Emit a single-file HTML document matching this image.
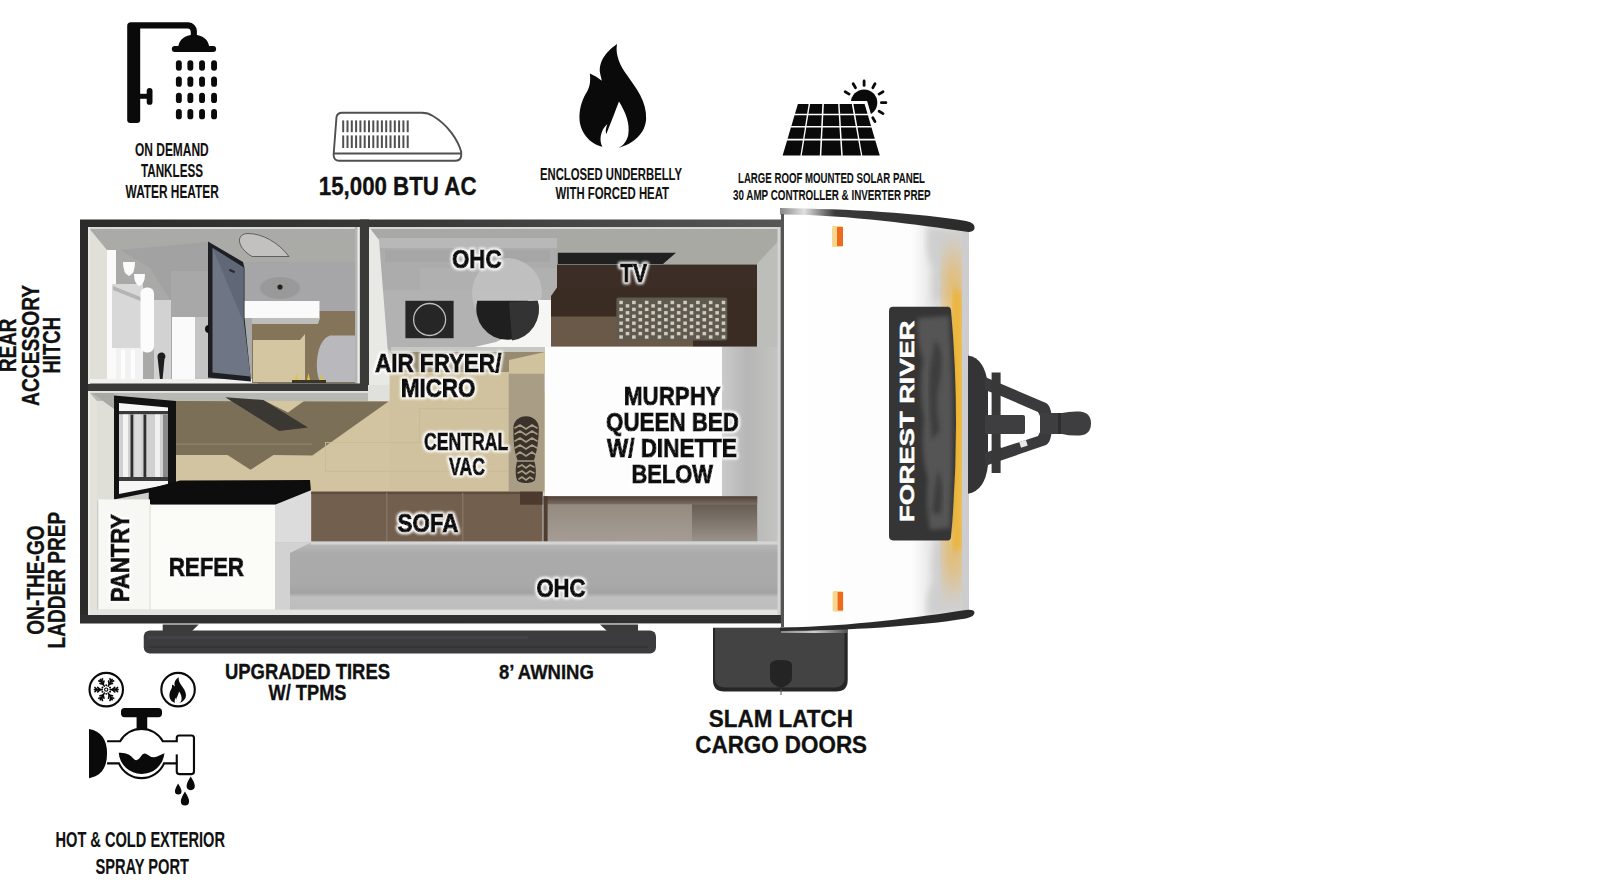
<!DOCTYPE html>
<html><head><meta charset="utf-8">
<style>
html,body{margin:0;padding:0;background:#fff;width:1600px;height:884px;overflow:hidden}
svg{display:block}
text{font-family:"Liberation Sans",sans-serif;font-weight:bold}
</style></head>
<body>
<svg width="1600" height="884" viewBox="0 0 1600 884">
<defs>
  <linearGradient id="wallTop" x1="0" x2="1" y1="0" y2="0">
    <stop offset="0" stop-color="#2b2b29"/><stop offset="0.5" stop-color="#3a3a38"/><stop offset="1" stop-color="#565656"/>
  </linearGradient>
  <filter id="glow" x="-20%" y="-40%" width="140%" height="180%">
    <feMorphology operator="dilate" radius="1" in="SourceAlpha" result="d"/>
    <feGaussianBlur in="d" stdDeviation="1.4" result="b"/>
    <feFlood flood-color="#fff"/>
    <feComposite in2="b" operator="in" result="g"/>
    <feMerge><feMergeNode in="g"/><feMergeNode in="g"/><feMergeNode in="SourceGraphic"/></feMerge>
  </filter>
</defs>
<rect width="1600" height="884" fill="#fff"/>

<!-- ===== TRAILER BODY ===== -->

<g id="body">
  <rect x="80" y="219.5" width="702" height="404" fill="url(#wallTop)"/>
  <rect x="88" y="227" width="693" height="388" fill="#cdcdca"/>

  <!-- ========== BATHROOM ========== -->
  <rect x="88" y="227" width="272" height="157" fill="#a9a9a7"/>
  <!-- ceiling -->
  <polygon points="88,227 360,227 360,262 243,262 208,242 107,252" fill="#aaaaa6"/>
  <rect x="88" y="227" width="272" height="2" fill="#d8d8d4"/>
  <polygon points="120,250 208,242 208,300 170,300 150,268" fill="#a2a2a2"/>
  <rect x="171" y="271" width="37" height="46" fill="#a8a8a8"/>
  <!-- left wall face -->
  <polygon points="88,227 107,250 107,384 88,384" fill="#e0dfd8"/>
  <!-- shower fixtures -->
  <rect x="107" y="250" width="9" height="132" fill="#fafaf8"/>
  <rect x="112" y="284" width="31" height="64" fill="#d8d8d8"/>
  <polygon points="113,286 143,298 143,302 113,290" fill="#b4b4b4"/>
  <rect x="116" y="348" width="27" height="34" fill="#f2f2f2"/>
  <rect x="121" y="350" width="4" height="32" fill="#fdfdfd"/>
  <rect x="131" y="350" width="4" height="32" fill="#fdfdfd"/>
  <path d="M123,262 h12 q0,12 -6,14 q-6,-2 -6,-14 z" fill="#fbfbfb"/>
  <path d="M134,274 h11 q0,10 -5.5,12 q-5.5,-2 -5.5,-12 z" fill="#fbfbfb"/>
  <rect x="140.5" y="287.5" width="13.5" height="65" rx="6" fill="#fcfcfc"/>
  <rect x="154" y="300" width="17" height="82" fill="#d2d2d2"/>
  <rect x="172" y="317" width="23" height="65" fill="#fafafa"/>
  <rect x="195" y="317" width="13" height="65" fill="#c4c4c4"/>
  <path d="M157.5,357 a4,4 0 1 1 7,2 l-2.2,23 h-2 z" fill="#1e1e1e"/>
  <rect x="88" y="379" width="170" height="5" fill="#f0f0ee"/>
  <!-- skylight -->
  <path d="M252,256.5 L289,256.5 C278,242 262,233.5 248,233.5 C236,233.5 236,247 252,256.5 Z" fill="#c3c1bf" stroke="#4a4a4a" stroke-width="0.8"/>
  <!-- back wall right -->
  <rect x="243" y="262" width="117" height="50" fill="#a6a6a8"/>
  <ellipse cx="280" cy="288" rx="20" ry="11" fill="#999"/>
  <circle cx="280" cy="287" r="2.6" fill="#222"/>
  <!-- vanity/floor -->
  <rect x="252" y="311" width="108" height="72" fill="#84745a"/>
  <polygon points="253,340 300,340 305,334 305,382 253,382" fill="#d4c6a0"/>
  <path d="M360,335.5 L330,335.5 C316,340 314,370 320,382 L360,382 Z" fill="#b9b9bd"/>
  <rect x="243.5" y="301" width="76" height="17" fill="#fafafa"/>
  <polygon points="252,318 320,318 318,324 252,324" fill="#bdbdb9"/>
  <rect x="292" y="380" width="34" height="3" fill="#3a3526"/>
  <path d="M295,380 l1.5,-7 l1.5,7 z M307,380 l1.5,-7 l1.5,7 z M320,380 l1.5,-7 l1.5,7 z" fill="#e2c33a"/>
  <!-- shower door -->
  <polygon points="208,241.5 243,262 244.5,268 244.5,318 251,381.5 208,377.5" fill="#1e1f22"/>
  <polygon points="212.5,248 243.5,267.5 243.5,318 250.5,376.5 212.5,372.5" fill="#6e7686"/>
  <polygon points="212.5,248 243.5,267.5 243.5,322" fill="#606877"/>
  <rect x="229" y="270" width="6" height="2" fill="#2a2a2a" transform="rotate(25 232 271)"/>
  <path d="M209,325 a4,4 0 0 0 0,8 z" fill="#111"/>
  <rect x="355" y="227" width="5" height="157" fill="#b4b4b2"/><rect x="357.5" y="227" width="2" height="157" fill="#ececea"/>
  <!-- bathroom walls -->
  <rect x="360" y="219.5" width="9" height="172" fill="#3a3a39"/>
  <rect x="88" y="383.5" width="281" height="8" fill="#3a3a39"/>

  <!-- ========== KITCHEN (top) ========== -->
  <polygon points="369,227 557,227 557,352 391,352 369,330" fill="#b0b0ae"/>
  <rect x="369" y="227" width="188" height="11" fill="#a8a8a6"/>
  <rect x="379" y="238" width="178" height="52" fill="#acacac"/>
  <rect x="379" y="238" width="178" height="10" fill="#b8b8b8"/>
  <rect x="385" y="250" width="165" height="12" fill="#a6a6a6"/>
  <rect x="420" y="268" width="137" height="22" fill="#b0b0b0"/>
  <polygon points="373,290 557,290 557,352 391,352" fill="#b2b2b2"/>
  <polygon points="369,227 379,240 391,391 369,391" fill="#e8e8e4"/>
  <rect x="405.4" y="300.8" width="48.2" height="37.4" fill="#262626"/>
  <circle cx="429.6" cy="319.5" r="16" fill="none" stroke="#bdbdbd" stroke-width="1.3"/>
  <circle cx="507" cy="293" r="35" fill="#c2c2c2" opacity="0.85"/>
  <polygon points="528,300 551,300 551,348 470,348 496,342 524,328" fill="#f6f6f4"/>
  <rect x="391" y="347" width="160" height="5" fill="#c8c8c2"/>
  <path d="M477.3,300.8 H537.7 A31.2,31.2 0 1 1 477.3,300.8 Z" fill="#1f1f1f"/>
  <path d="M509,302 L537.7,300.8 A31.2,31.2 0 0 1 512,340.5 Z" fill="#333"/>

  <!-- ========== TV / BED ========== -->
  <rect x="557" y="227" width="222" height="120" fill="#a9a9a3"/>
  <polygon points="557.8,252.7 676,252.7 663,264 557.8,264" fill="#202020"/>
  <polygon points="557,264.5 765,264.5 757,288 557,288" fill="#3c2e26"/>
  <rect x="557" y="264" width="208" height="1" fill="#777"/>
  <polygon points="557,287.5 757,287.5 757,317 551,317 551,296" fill="#3a2c23"/>
  <rect x="551" y="316.5" width="206" height="30" fill="#6a5848"/>
  <rect x="693" y="316" width="64" height="30.5" fill="#3a2c23"/>
  <polygon points="757,264 779,240 779,347 757,347" fill="#bdbdb9"/>
  <rect x="616.4" y="297.6" width="110.8" height="43" rx="2" fill="#5f5a4f"/>
  <g fill="#d2cbbf"><rect x="619.3" y="300.8" width="3.6" height="3.4"/><rect x="619.3" y="307.7" width="3.6" height="3.4"/><rect x="619.3" y="314.6" width="3.6" height="3.4"/><rect x="619.3" y="321.5" width="3.6" height="3.4"/><rect x="619.3" y="328.4" width="3.6" height="3.4"/><rect x="619.3" y="335.3" width="3.6" height="3.4"/><rect x="625.7" y="304.2" width="3.6" height="3.4"/><rect x="625.7" y="311.1" width="3.6" height="3.4"/><rect x="625.7" y="318.0" width="3.6" height="3.4"/><rect x="625.7" y="324.9" width="3.6" height="3.4"/><rect x="625.7" y="331.9" width="3.6" height="3.4"/><rect x="632.1" y="300.8" width="3.6" height="3.4"/><rect x="632.1" y="307.7" width="3.6" height="3.4"/><rect x="632.1" y="314.6" width="3.6" height="3.4"/><rect x="632.1" y="321.5" width="3.6" height="3.4"/><rect x="632.1" y="328.4" width="3.6" height="3.4"/><rect x="632.1" y="335.3" width="3.6" height="3.4"/><rect x="638.5" y="304.2" width="3.6" height="3.4"/><rect x="638.5" y="311.1" width="3.6" height="3.4"/><rect x="638.5" y="318.0" width="3.6" height="3.4"/><rect x="638.5" y="324.9" width="3.6" height="3.4"/><rect x="638.5" y="331.9" width="3.6" height="3.4"/><rect x="644.9" y="300.8" width="3.6" height="3.4"/><rect x="644.9" y="307.7" width="3.6" height="3.4"/><rect x="644.9" y="314.6" width="3.6" height="3.4"/><rect x="644.9" y="321.5" width="3.6" height="3.4"/><rect x="644.9" y="328.4" width="3.6" height="3.4"/><rect x="644.9" y="335.3" width="3.6" height="3.4"/><rect x="651.3" y="304.2" width="3.6" height="3.4"/><rect x="651.3" y="311.1" width="3.6" height="3.4"/><rect x="651.3" y="318.0" width="3.6" height="3.4"/><rect x="651.3" y="324.9" width="3.6" height="3.4"/><rect x="651.3" y="331.9" width="3.6" height="3.4"/><rect x="657.7" y="300.8" width="3.6" height="3.4"/><rect x="657.7" y="307.7" width="3.6" height="3.4"/><rect x="657.7" y="314.6" width="3.6" height="3.4"/><rect x="657.7" y="321.5" width="3.6" height="3.4"/><rect x="657.7" y="328.4" width="3.6" height="3.4"/><rect x="657.7" y="335.3" width="3.6" height="3.4"/><rect x="664.1" y="304.2" width="3.6" height="3.4"/><rect x="664.1" y="311.1" width="3.6" height="3.4"/><rect x="664.1" y="318.0" width="3.6" height="3.4"/><rect x="664.1" y="324.9" width="3.6" height="3.4"/><rect x="664.1" y="331.9" width="3.6" height="3.4"/><rect x="670.5" y="300.8" width="3.6" height="3.4"/><rect x="670.5" y="307.7" width="3.6" height="3.4"/><rect x="670.5" y="314.6" width="3.6" height="3.4"/><rect x="670.5" y="321.5" width="3.6" height="3.4"/><rect x="670.5" y="328.4" width="3.6" height="3.4"/><rect x="670.5" y="335.3" width="3.6" height="3.4"/><rect x="676.9" y="304.2" width="3.6" height="3.4"/><rect x="676.9" y="311.1" width="3.6" height="3.4"/><rect x="676.9" y="318.0" width="3.6" height="3.4"/><rect x="676.9" y="324.9" width="3.6" height="3.4"/><rect x="676.9" y="331.9" width="3.6" height="3.4"/><rect x="683.3" y="300.8" width="3.6" height="3.4"/><rect x="683.3" y="307.7" width="3.6" height="3.4"/><rect x="683.3" y="314.6" width="3.6" height="3.4"/><rect x="683.3" y="321.5" width="3.6" height="3.4"/><rect x="683.3" y="328.4" width="3.6" height="3.4"/><rect x="683.3" y="335.3" width="3.6" height="3.4"/><rect x="689.7" y="304.2" width="3.6" height="3.4"/><rect x="689.7" y="311.1" width="3.6" height="3.4"/><rect x="689.7" y="318.0" width="3.6" height="3.4"/><rect x="689.7" y="324.9" width="3.6" height="3.4"/><rect x="689.7" y="331.9" width="3.6" height="3.4"/><rect x="696.1" y="300.8" width="3.6" height="3.4"/><rect x="696.1" y="307.7" width="3.6" height="3.4"/><rect x="696.1" y="314.6" width="3.6" height="3.4"/><rect x="696.1" y="321.5" width="3.6" height="3.4"/><rect x="696.1" y="328.4" width="3.6" height="3.4"/><rect x="696.1" y="335.3" width="3.6" height="3.4"/><rect x="702.5" y="304.2" width="3.6" height="3.4"/><rect x="702.5" y="311.1" width="3.6" height="3.4"/><rect x="702.5" y="318.0" width="3.6" height="3.4"/><rect x="702.5" y="324.9" width="3.6" height="3.4"/><rect x="702.5" y="331.9" width="3.6" height="3.4"/><rect x="708.9" y="300.8" width="3.6" height="3.4"/><rect x="708.9" y="307.7" width="3.6" height="3.4"/><rect x="708.9" y="314.6" width="3.6" height="3.4"/><rect x="708.9" y="321.5" width="3.6" height="3.4"/><rect x="708.9" y="328.4" width="3.6" height="3.4"/><rect x="708.9" y="335.3" width="3.6" height="3.4"/><rect x="715.3" y="304.2" width="3.6" height="3.4"/><rect x="715.3" y="311.1" width="3.6" height="3.4"/><rect x="715.3" y="318.0" width="3.6" height="3.4"/><rect x="715.3" y="324.9" width="3.6" height="3.4"/><rect x="715.3" y="331.9" width="3.6" height="3.4"/><rect x="721.7" y="300.8" width="3.6" height="3.4"/><rect x="721.7" y="307.7" width="3.6" height="3.4"/><rect x="721.7" y="314.6" width="3.6" height="3.4"/><rect x="721.7" y="321.5" width="3.6" height="3.4"/><rect x="721.7" y="328.4" width="3.6" height="3.4"/><rect x="721.7" y="335.3" width="3.6" height="3.4"/></g>

  <!-- ========== FLOOR / CENTRAL ========== -->
  <rect x="175" y="391" width="370" height="101" fill="#d2c4a0"/>
  <polygon points="88,391 390,391 389,401 88,401" fill="#b8b8b4"/>
  <rect x="88" y="391" width="302" height="2" fill="#e0e0dc"/>
  <polygon points="368,385 390,385 390,401 368,401" fill="#e0e0dc"/>
  <polygon points="175,401 388.5,401.5 312.3,455.4 273.5,455 250.5,469.8 227.5,455 175,455" fill="#7b6f58"/>
  <polygon points="265,401 304,401 288,412.5" fill="#d4c6a0"/>
  <rect x="175" y="443.5" width="137" height="1.2" fill="#938567"/>
  <polygon points="225.3,397.2 263.4,400 308,427.4 279.2,431" fill="#3b3733"/>
  <rect x="389.6" y="352" width="120" height="140" fill="#d0c29e"/>
  <rect x="391" y="352" width="154" height="20" fill="#968a70"/>
  <rect x="419" y="408.2" width="90" height="0.9" fill="#c8ba96"/>
  <rect x="325" y="442.2" width="184" height="0.9" fill="#c8ba96"/>
  <rect x="325" y="470.8" width="184" height="0.9" fill="#c8ba96"/>
  <rect x="419.2" y="408" width="0.9" height="35" fill="#c8ba96"/>
  <rect x="325" y="442" width="0.9" height="29" fill="#c8ba96"/>
  <!-- vac mat -->
  <rect x="508.7" y="373.4" width="35.6" height="118" fill="#a99d85"/>
  <polygon points="509,360 545,352 545,373.6 509,373.6" fill="#d0c29c"/>
  <g>
  <path d="M526,416.2 C533,416.2 538.8,421 538.8,428 C538.8,440 537,452 534,460 C536,466 536.5,474 535,480 C533,484 519,484 517,480 C515,474 515.5,466 517.5,460 C514,452 513.4,440 513.4,428 C513.4,421 519,416.2 526,416.2 Z" fill="#3b332b"/>
  <g fill="none" stroke="#a89c84" stroke-width="1.6" stroke-linecap="round">
    <path d="M515,428 L520,425 L526,429 L532,425 L537,428"/>
    <path d="M515,434 L520,431 L526,435 L532,431 L537,434"/>
    <path d="M515,441 L520,438 L526,442 L532,438 L537,441"/>
    <path d="M515,448 L520,445 L526,449 L532,445 L537,448"/>
    <path d="M516,455 L520,452 L526,456 L532,452 L536,455"/>
    <path d="M517,461 L535,461"/>
    <path d="M518,467 L522,465 L526,468 L530,465 L534,467"/>
    <path d="M518,473 L522,471 L526,474 L530,471 L534,473"/>
    <path d="M519,479 L522,477 L526,480 L530,477 L533,479"/>
  </g>
</g>
  <!-- left-lower: door + walls -->
  <polygon points="88,391 97,401 97,615 88,615" fill="#e2e1da"/>
  <polygon points="97,401 114,401 114,500 97,500" fill="#dfded7"/>
  <polygon points="92,393 114,393 114,409" fill="#a8a8a4"/>
  <polygon points="114,395.6 176,401 176,487 114,499.5" fill="#121212"/>
  <polygon points="119,403 168,407.5 168,484.5 119,494" fill="#f6f6f6"/>
  <rect x="119" y="411" width="49" height="3.5" fill="#3a3a3a"/>
  <rect x="119" y="414.5" width="49" height="62.5" fill="#d0d0d0"/>
  <rect x="123" y="414.5" width="5" height="62.5" fill="#f4f4f4"/>
  <rect x="135" y="414.5" width="6" height="62.5" fill="#dcdcdc"/>
  <rect x="155" y="414.5" width="5" height="62.5" fill="#f0f0f0"/>
  <rect x="130.5" y="414.5" width="2.8" height="62.5" fill="#2e2e2e"/>
  <rect x="143.5" y="414.5" width="2.8" height="62.5" fill="#2e2e2e"/>
  <rect x="163" y="414.5" width="5" height="62.5" fill="#8a8a8a"/>
  <rect x="119" y="477" width="49" height="4" fill="#3a3a3a"/>
  <!-- countertop -->
  <polygon points="148.8,489 180,480.6 310,480 311,492 303,504.7 148.8,504.7" fill="#0d0d0d"/>
  <!-- pantry & refer -->
  <rect x="98.3" y="499.4" width="51.7" height="110.3" fill="#f7f7f3"/>
  <rect x="150" y="504.7" width="125" height="105" fill="#fbfbf7"/>
  <rect x="149.5" y="504" width="1.2" height="106" fill="#e2e2dc"/>
  <polygon points="275,504.7 311.6,490 311.6,542.4 275,542.4" fill="#dcdcdc"/>
  <!-- sofa -->
  <rect x="311.2" y="491.7" width="231.3" height="50" fill="#735f4d"/>
  <rect x="311.2" y="491.7" width="231.3" height="2.5" fill="#5e4c3e"/>
  <rect x="386" y="493" width="1.5" height="48" fill="#857261"/>
  <rect x="462" y="493" width="1.5" height="48" fill="#857261"/>
  <rect x="520" y="491.7" width="22.5" height="13" fill="#4c3a2e"/>
  <!-- bed -->
  <rect x="545" y="346.8" width="177" height="149.5" fill="#fdfdfd"/>
  <linearGradient id="bedSide" x1="0" x2="1"><stop offset="0" stop-color="#cacaca"/><stop offset="0.45" stop-color="#b6b6b6"/><stop offset="1" stop-color="#c4c4c2"/></linearGradient>
  <rect x="722" y="346.8" width="57" height="195" fill="url(#bedSide)"/>
  <!-- dinette -->
  <rect x="543.6" y="496.3" width="213.6" height="45.2" fill="#8a7c70"/>
  <linearGradient id="dinTop" x1="0" x2="0" y1="0" y2="1"><stop offset="0" stop-color="#4e4036"/><stop offset="1" stop-color="#7a6c62"/></linearGradient>
  <rect x="543.6" y="496.3" width="213.6" height="8" fill="url(#dinTop)"/>
  <linearGradient id="dinSeat" x1="0" x2="0" y1="0" y2="1"><stop offset="0" stop-color="#958a80"/><stop offset="1" stop-color="#a59d95"/></linearGradient>
  <rect x="547" y="504.4" width="145" height="37.1" fill="url(#dinSeat)"/>
  <rect x="543.6" y="496.3" width="4" height="45.2" fill="#4e3e32"/>
  <linearGradient id="dinR" x1="0" x2="0" y1="0" y2="1"><stop offset="0" stop-color="#665c52"/><stop offset="1" stop-color="#9a938b"/></linearGradient>
  <rect x="692" y="504.4" width="65" height="37.1" fill="url(#dinR)"/>
  <!-- bottom OHC -->
  <linearGradient id="ohcB" x1="0" x2="0" y1="0" y2="1"><stop offset="0" stop-color="#cdcdcd"/><stop offset="0.05" stop-color="#b6b6b6"/><stop offset="0.16" stop-color="#ababab"/><stop offset="0.58" stop-color="#a9a9a9"/><stop offset="0.70" stop-color="#a3a3a3"/><stop offset="0.76" stop-color="#c0c0c0"/><stop offset="0.9" stop-color="#bdbdbd"/><stop offset="1" stop-color="#d0d0cc"/></linearGradient>
  <polygon points="275,542.4 781,541.5 781,615 275,615" fill="url(#ohcB)"/>
  <polygon points="275,542.4 311,542.4 290,553 290,610 275,610" fill="#d2d2d2"/>
  <rect x="311" y="541.5" width="470" height="3" fill="#d4d4d4"/>
  <rect x="88" y="609.7" width="693" height="5.5" fill="#e4e4e0"/>
  <rect x="369" y="227" width="410" height="2" fill="#d6d6d2"/>
  <rect x="88" y="227" width="2" height="157" fill="#e8e8e2"/>
  <rect x="88" y="391" width="2" height="224" fill="#ecebe5"/>
  <!-- right interior edge -->
  <rect x="777.5" y="227" width="3.5" height="388" fill="#d4d4d4"/><rect x="780.5" y="227" width="1" height="388" fill="#777"/>
  <!-- bottom wall -->
  <rect x="80" y="615" width="702" height="8" fill="#303030"/>
</g>



<!-- ===== AWNING ===== -->
<g id="awning">
  <polygon points="162.7,624.5 198.75,624.5 192,631 162.7,631" fill="#3a3a3a"/>
  <polygon points="600,624.5 638,624.5 638,631 607,631" fill="#3a3a3a"/>
  <rect x="143.75" y="630.5" width="512.25" height="23" rx="6" fill="#3c3c3e"/>
  <rect x="148" y="636" width="380" height="3" fill="#444446"/>
  <rect x="148" y="646" width="500" height="2" fill="#353537"/>
</g>

<!-- ===== CARGO DOOR ===== -->
<g id="cargo">
  <path d="M713,627.8 H847.7 V680 Q847.7,691.5 836,691.5 H724 Q713,691.5 713,680 Z" fill="#262626"/>
  <path d="M715,628 H844.5 V678 Q844.5,687.5 834,687.5 H726 Q715,687.5 715,678 Z" fill="#434343"/>
  <rect x="781" y="629" width="66" height="4" fill="url(#doorHi)"/>
  <path d="M770,665 Q770,660 781,660 Q792,660 792,665 V678 Q792,684 781,688 Q770,684 770,678 Z" fill="#242424"/>
  <rect x="780.5" y="689" width="1" height="6" fill="#555"/>
</g>

<!-- ===== FRONT CAP ===== -->
<defs>
  <linearGradient id="capGrad" x1="781" x2="969" y1="0" y2="0" gradientUnits="userSpaceOnUse">
    <stop offset="0" stop-color="#ffffff"/>
    <stop offset="0.7" stop-color="#fcfcfc"/>
    <stop offset="0.8" stop-color="#e6e6e6"/>
    <stop offset="0.9" stop-color="#dcdcdc"/>
    <stop offset="1" stop-color="#cfcfd2"/>
  </linearGradient>
  <linearGradient id="yel" x1="0" x2="0" y1="0" y2="1">
    <stop offset="0" stop-color="#e8b860" stop-opacity="0.1"/>
    <stop offset="0.1" stop-color="#e8b860" stop-opacity="0.75"/>
    <stop offset="0.5" stop-color="#f0b830" stop-opacity="1"/>
    <stop offset="0.9" stop-color="#e8b860" stop-opacity="0.75"/>
    <stop offset="1" stop-color="#e8b860" stop-opacity="0.1"/>
  </linearGradient>
  <linearGradient id="capTopBand" x1="781" x2="974" gradientUnits="userSpaceOnUse">
    <stop offset="0" stop-color="#8a8a8a"/><stop offset="0.12" stop-color="#e0e0e0"/><stop offset="0.28" stop-color="#3a3a3a"/><stop offset="1" stop-color="#2a2a2a"/>
  </linearGradient>
  <linearGradient id="capBotBand" x1="713" x2="974" gradientUnits="userSpaceOnUse">
    <stop offset="0" stop-color="#3a3a3a"/><stop offset="0.28" stop-color="#d8d8d8"/><stop offset="0.45" stop-color="#2e2e2e"/><stop offset="1" stop-color="#262626"/>
  </linearGradient>
  <linearGradient id="doorHi" x1="781" x2="847" gradientUnits="userSpaceOnUse">
    <stop offset="0" stop-color="#888"/><stop offset="0.5" stop-color="#cfcfcf"/><stop offset="1" stop-color="#555"/>
  </linearGradient>
  <filter id="blur2"><feGaussianBlur stdDeviation="2"/></filter>
  <filter id="blur3"><feGaussianBlur stdDeviation="3"/></filter>
  <filter id="blur6"><feGaussianBlur stdDeviation="6"/></filter>
</defs>
<g id="cap">
  <path d="M781,214 C850,215 920,222 969,229 L969,612 C920,619 850,626 781,627 Z" fill="url(#capGrad)"/>
  <g filter="url(#blur3)">
    <path d="M928,226 Q945,229 964,232 L964,330 Q950,320 935,310 Q930,290 933,270 Q924,250 928,226 Z" fill="#cfcfcf"/>
    <path d="M928,616 Q945,613 964,610 L964,520 Q950,530 935,540 Q930,560 933,580 Q924,600 928,616 Z" fill="#cfcfcf"/>
    <rect x="936" y="300" width="22" height="240" fill="#dcdcdc"/>
  </g>
  <g filter="url(#blur6)">
    <rect x="943" y="240" width="21" height="360" fill="url(#yel)"/>
  </g>
  <g filter="url(#blur3)">
    <rect x="953" y="290" width="8" height="260" fill="#f0b020" opacity="0.8"/>
  </g>
  <rect x="962" y="229" width="7" height="383" fill="#cdcdd0"/>
  <path d="M780,208 C850,209 920,213 966,221 Q976,223 974.5,229 Q972,233 965,231.5 C920,225 850,215 784,214.5 L780,214.5 Z" fill="url(#capTopBand)"/>
  <path d="M780,631 C850,630.5 920,626 966,618.5 Q975,616.5 974.5,612 Q973,609 966,610 C920,617 850,626.5 784,627.5 L780,627.5 Z" fill="#2a2a2a"/>
  <rect x="781" y="214" width="3" height="413" fill="#555"/>
  <!-- marker lights -->
  <rect x="832" y="226" width="11" height="21" rx="1.5" fill="#f7d690"/>
  <rect x="837" y="227" width="6" height="19" fill="#ee6a1c"/>
  <rect x="832.6" y="591" width="10.5" height="20.5" rx="1.5" fill="#f7d690"/>
  <rect x="837.6" y="592" width="5.5" height="18.5" fill="#ee6a1c"/>
  <!-- logo -->
  <path d="M893,306.8 H948 Q950.5,307 951,310 Q961,423 951,537 Q950.5,540.4 948,540.4 H893 Q889,540.4 889,536 V311 Q889,306.8 893,306.8 Z" fill="#353535"/>
  <g filter="url(#blur2)" fill="#545454">
    <path d="M918,318 L949,316 Q956,420 950,528 L930,530 Q925,505 928,480 Q920,450 924,420 Q918,390 923,360 Q916,340 918,318 Z"/>
  </g>
  <g filter="url(#blur2)" fill="#3c3c3c">
    <path d="M935,340 Q945,350 940,380 Q934,400 940,430 L932,440 Q928,400 930,370 Z"/>
    <path d="M938,470 Q946,490 940,515 L932,512 Q934,490 938,470 Z"/>
  </g>
  <text transform="translate(914.3,522) rotate(-90)" font-size="20" fill="#fff" stroke="#fff" stroke-width="0.5" textLength="201.5" lengthAdjust="spacingAndGlyphs">FOREST RIVER</text>
</g>

<!-- ===== HITCH ===== -->
<g id="hitch" fill="#3a3a3c">
  <path d="M968,355.4 Q985,358 988,385 L988,465 Q985,491 968,493.7 Z" fill="#343436"/>
  <path fill-rule="evenodd" d="M985,377 L1046,403 Q1052,406 1052,424 Q1052,442 1046,445 L985,466 L985,453 L1001,447 L1001,396 L985,390 Z M1001,396 L1038,412 L1044,424 L1038,436 L1001,448 Z"/>
  <rect x="991.6" y="372.5" width="9" height="100.5" fill="#383838"/>
  <rect x="985" y="415" width="40" height="19" rx="2" fill="#3e3e40"/>
  <path d="M1040,413 H1062 Q1070,411 1080,411.5 Q1091,412.5 1091,423.5 Q1091,434.5 1080,435.5 Q1070,436 1062,434 H1040 Z" fill="#3e3e40"/>
  <rect x="1058" y="413" width="3" height="21" fill="#2e2e30"/>
  <rect x="1020" y="441" width="7" height="6" fill="#e8e8e8" transform="rotate(-18 1023 444)"/>
</g>


<!-- ===== ICONS ===== -->
<g id="shower" fill="#0a0a0a">
  <path d="M127.2,26 Q127.2,22.3 131,22.3 H188.5 A8.4,8.8 0 0 1 196.9,31.1 V37 H190.8 V32.5 A3.2,4.1 0 0 0 187.6,28.4 H140.2 V120 Q140.2,123 137,123 H130.4 Q127.2,123 127.2,120 Z"/>
  <path d="M178.1,47 Q180,35.5 193.8,34.8 Q207.5,35.5 209.3,47 Z"/>
  <rect x="171.8" y="46" width="44.3" height="6" rx="3"/>
  <rect x="175.9" y="60.3" width="5.9" height="10.4" rx="2.9"/><rect x="187.4" y="60.3" width="5.9" height="10.4" rx="2.9"/><rect x="199.1" y="60.3" width="5.9" height="10.4" rx="2.9"/><rect x="211.1" y="60.3" width="5.9" height="10.4" rx="2.9"/><rect x="175.9" y="76.4" width="5.9" height="10.4" rx="2.9"/><rect x="187.4" y="76.4" width="5.9" height="10.4" rx="2.9"/><rect x="199.1" y="76.4" width="5.9" height="10.4" rx="2.9"/><rect x="211.1" y="76.4" width="5.9" height="10.4" rx="2.9"/><rect x="175.9" y="92.7" width="5.9" height="10.4" rx="2.9"/><rect x="187.4" y="92.7" width="5.9" height="10.4" rx="2.9"/><rect x="199.1" y="92.7" width="5.9" height="10.4" rx="2.9"/><rect x="211.1" y="92.7" width="5.9" height="10.4" rx="2.9"/><rect x="175.9" y="108.9" width="5.9" height="10.4" rx="2.9"/><rect x="187.4" y="108.9" width="5.9" height="10.4" rx="2.9"/><rect x="199.1" y="108.9" width="5.9" height="10.4" rx="2.9"/><rect x="211.1" y="108.9" width="5.9" height="10.4" rx="2.9"/>
  <rect x="139" y="93.8" width="9" height="5"/>
  <rect x="146.7" y="87.9" width="5.8" height="16.9" rx="2.9"/>
</g>
<g id="ac">
  <path d="M336.5,117 Q337.5,112.7 342,112.7 H422 Q428,112.7 433,116 C448,125 458,140 461.2,152 L461.2,156 Q460.5,160.8 455,160.8 H339 Q334,160.8 333.6,155 Z M334,153.5 H461" fill="none" stroke="#505050" stroke-width="1.9"/>
  <g fill="#505050"><rect x="342.2" y="120.4" width="2" height="11.8"/><rect x="342.2" y="135.4" width="2" height="12.6"/><rect x="346.5" y="120.4" width="2" height="11.8"/><rect x="346.5" y="135.4" width="2" height="12.6"/><rect x="350.8" y="120.4" width="2" height="11.8"/><rect x="350.8" y="135.4" width="2" height="12.6"/><rect x="355.1" y="120.4" width="2" height="11.8"/><rect x="355.1" y="135.4" width="2" height="12.6"/><rect x="359.4" y="120.4" width="2" height="11.8"/><rect x="359.4" y="135.4" width="2" height="12.6"/><rect x="363.7" y="120.4" width="2" height="11.8"/><rect x="363.7" y="135.4" width="2" height="12.6"/><rect x="368.0" y="120.4" width="2" height="11.8"/><rect x="368.0" y="135.4" width="2" height="12.6"/><rect x="372.3" y="120.4" width="2" height="11.8"/><rect x="372.3" y="135.4" width="2" height="12.6"/><rect x="376.6" y="120.4" width="2" height="11.8"/><rect x="376.6" y="135.4" width="2" height="12.6"/><rect x="380.9" y="120.4" width="2" height="11.8"/><rect x="380.9" y="135.4" width="2" height="12.6"/><rect x="385.2" y="120.4" width="2" height="11.8"/><rect x="385.2" y="135.4" width="2" height="12.6"/><rect x="389.5" y="120.4" width="2" height="11.8"/><rect x="389.5" y="135.4" width="2" height="12.6"/><rect x="393.8" y="120.4" width="2" height="11.8"/><rect x="393.8" y="135.4" width="2" height="12.6"/><rect x="398.1" y="120.4" width="2" height="11.8"/><rect x="398.1" y="135.4" width="2" height="12.6"/><rect x="402.4" y="120.4" width="2" height="11.8"/><rect x="402.4" y="135.4" width="2" height="12.6"/><rect x="406.7" y="120.4" width="2" height="11.8"/><rect x="406.7" y="135.4" width="2" height="12.6"/></g>
</g>
<path id="flame" transform="translate(570,38) scale(0.1324)" d="M355,45 C290,90 210,170 228,270 C232,290 238,310 240,322 C210,298 180,282 150,268 C158,340 145,380 120,420 C85,480 68,550 72,620 C82,730 165,805 245,822 C220,780 225,700 282,650 C268,690 268,715 275,725 C300,660 340,560 370,480 C420,560 455,650 440,730 C430,780 400,815 365,830 C480,800 570,720 575,610 C580,480 500,380 430,280 C380,210 340,130 355,45 Z" fill="#0a0a0a"/>
<g id="solar" fill="#0a0a0a">
  <circle cx="864.1" cy="102.7" r="13.2"/>
  <polygon points="796.6,102.5 866,102.5 881.8,157 781,157" fill="#fff"/>
  <polygon points="796.6,102.5 866,102.5 881.8,157 781,157" fill="none" stroke="#fff" stroke-width="3"/>
  <polygon points="797.9,104.0 808.6,104.0 807.1,113.7 795.0,113.7"/><polygon points="810.1,104.0 822.3,104.0 821.8,113.7 808.5,113.7"/><polygon points="823.9,104.0 838.1,104.0 838.7,113.7 823.4,113.7"/><polygon points="839.6,104.0 851.8,104.0 853.5,113.7 840.2,113.7"/><polygon points="853.4,104.0 864.6,104.0 867.5,113.7 855.1,113.7"/><polygon points="794.5,115.3 806.8,115.3 805.1,126.0 791.4,126.0"/><polygon points="808.3,115.3 821.8,115.3 821.2,126.0 806.5,126.0"/><polygon points="823.3,115.3 838.8,115.3 839.4,126.0 822.8,126.0"/><polygon points="840.3,115.3 853.8,115.3 855.7,126.0 840.9,126.0"/><polygon points="855.4,115.3 867.9,115.3 871.1,126.0 857.2,126.0"/><polygon points="790.9,127.5 804.9,127.5 803.1,138.7 787.6,138.7"/><polygon points="806.3,127.5 821.2,127.5 820.6,138.7 804.4,138.7"/><polygon points="822.7,127.5 839.5,127.5 840.2,138.7 822.1,138.7"/><polygon points="841.0,127.5 856.0,127.5 858.0,138.7 841.7,138.7"/><polygon points="857.5,127.5 871.5,127.5 874.8,138.7 859.4,138.7"/><polygon points="787.1,140.4 802.8,140.4 800.4,155.5 782.6,155.5"/><polygon points="804.2,140.4 820.5,140.4 819.8,155.5 801.7,155.5"/><polygon points="822.1,140.4 840.3,140.4 841.2,155.5 821.3,155.5"/><polygon points="841.8,140.4 858.3,140.4 861.0,155.5 842.7,155.5"/><polygon points="859.7,140.4 875.3,140.4 879.8,155.5 862.3,155.5"/>
  <g stroke="#0a0a0a" stroke-width="2.8" stroke-linecap="round"><line x1="849.1" y1="94.1" x2="845.2" y2="91.8"/><line x1="855.5" y1="87.7" x2="853.2" y2="83.8"/><line x1="864.1" y1="85.4" x2="864.1" y2="80.9"/><line x1="872.8" y1="87.7" x2="875.0" y2="83.8"/><line x1="879.1" y1="94.1" x2="883.0" y2="91.8"/><line x1="881.4" y1="102.7" x2="885.9" y2="102.7"/><line x1="879.1" y1="111.3" x2="883.0" y2="113.6"/><line x1="872.8" y1="117.7" x2="875.0" y2="121.6"/></g>
</g>
<g id="faucet" transform="translate(80,665) scale(0.164)">
  <circle cx="160" cy="150" r="102" fill="none" stroke="#0a0a0a" stroke-width="13"/>
  <circle cx="598" cy="150" r="102" fill="none" stroke="#0a0a0a" stroke-width="13"/>
  <g stroke="#0a0a0a" stroke-width="10" stroke-linecap="round"><line x1="184" y1="150" x2="232" y2="150"/><line x1="198" y1="150" x2="212" y2="136"/><line x1="198" y1="150" x2="212" y2="164"/><line x1="216" y1="150" x2="229" y2="137"/><line x1="216" y1="150" x2="229" y2="163"/><circle cx="183" cy="163" r="6" stroke="none" fill="#0a0a0a"/><line x1="172" y1="171" x2="196" y2="212"/><line x1="179" y1="183" x2="198" y2="188"/><line x1="179" y1="183" x2="174" y2="202"/><line x1="188" y1="198" x2="205" y2="203"/><line x1="188" y1="198" x2="183" y2="216"/><circle cx="160" cy="176" r="6" stroke="none" fill="#0a0a0a"/><line x1="148" y1="171" x2="124" y2="212"/><line x1="141" y1="183" x2="146" y2="202"/><line x1="141" y1="183" x2="122" y2="188"/><line x1="132" y1="198" x2="137" y2="216"/><line x1="132" y1="198" x2="115" y2="203"/><circle cx="137" cy="163" r="6" stroke="none" fill="#0a0a0a"/><line x1="136" y1="150" x2="88" y2="150"/><line x1="122" y1="150" x2="108" y2="164"/><line x1="122" y1="150" x2="108" y2="136"/><line x1="104" y1="150" x2="91" y2="163"/><line x1="104" y1="150" x2="91" y2="137"/><circle cx="137" cy="137" r="6" stroke="none" fill="#0a0a0a"/><line x1="148" y1="129" x2="124" y2="88"/><line x1="141" y1="117" x2="122" y2="112"/><line x1="141" y1="117" x2="146" y2="98"/><line x1="132" y1="102" x2="115" y2="97"/><line x1="132" y1="102" x2="137" y2="84"/><circle cx="160" cy="124" r="6" stroke="none" fill="#0a0a0a"/><line x1="172" y1="129" x2="196" y2="88"/><line x1="179" y1="117" x2="174" y2="98"/><line x1="179" y1="117" x2="198" y2="112"/><line x1="188" y1="102" x2="183" y2="84"/><line x1="188" y1="102" x2="205" y2="97"/><circle cx="183" cy="137" r="6" stroke="none" fill="#0a0a0a"/></g>
  <circle cx="160" cy="150" r="10" fill="none" stroke="#0a0a0a" stroke-width="7"/>
  <path transform="translate(531,66) scale(0.2)" d="M355,45 C290,90 210,170 228,270 C232,290 238,310 240,322 C210,298 180,282 150,268 C158,340 145,380 120,420 C85,480 68,550 72,620 C82,730 165,805 245,822 C220,780 225,700 282,650 C268,690 268,715 275,725 C300,660 340,560 370,480 C420,560 455,650 440,730 C430,780 400,815 365,830 C480,800 570,720 575,610 C580,480 500,380 430,280 C380,210 340,130 355,45 Z" fill="#0a0a0a"/>
  <rect x="250" y="262" width="250" height="56" rx="22" fill="#0a0a0a"/>
  <rect x="345" y="310" width="65" height="85" fill="#0a0a0a"/>
  <path d="M55,390 Q165,410 165,540 Q165,670 55,690 Z" fill="#0a0a0a"/>
  <path d="M165,465 H245 A150,150 0 0 1 505,465 H590 V445 Q590,430 605,430 H680 Q695,430 695,445 V650 Q695,665 680,665 H605 Q590,665 590,650 V600 H512.5 A150,150 0 0 1 237.5,600 H165" fill="#fff" stroke="#0a0a0a" stroke-width="13"/>
  <path d="M590,545 V600" stroke="#0a0a0a" stroke-width="13"/>
  <path d="M590,465 V600" stroke="#0a0a0a" stroke-width="0"/>
  <path d="M236,535 Q300,530 330,575 Q350,592 370,560 Q385,530 410,545 Q440,570 470,558 Q495,545 515,538 A140,140 0 0 1 236,535 Z" fill="#0a0a0a"/>
  <path d="M675,680 Q702,722 700,738 A25,25 0 0 1 650,738 Q648,722 675,680 Z" fill="#0a0a0a"/>
  <path d="M598,722 Q620,756 619,770 A20,20 0 0 1 579,770 Q578,756 598,722 Z" fill="#0a0a0a"/>
  <path d="M640,772 Q666,814 665,832 A25,25 0 0 1 615,832 Q614,814 640,772 Z" fill="#0a0a0a"/>
</g>

<!-- ===== LABELS ===== -->
<g fill="#111" stroke="#111" stroke-width="0.35">
  <text stroke-width="0.1" x="135" y="156" font-size="17.8" textLength="73.75" lengthAdjust="spacingAndGlyphs">ON DEMAND</text>
  <text stroke-width="0.1" x="141" y="177" font-size="17.8" textLength="62" lengthAdjust="spacingAndGlyphs">TANKLESS</text>
  <text stroke-width="0.1" x="125.6" y="198" font-size="17.8" textLength="93.1" lengthAdjust="spacingAndGlyphs">WATER HEATER</text>
  <text x="318.75" y="195.3" font-size="25.9" textLength="157.75" lengthAdjust="spacingAndGlyphs">15,000 BTU AC</text>
  <text stroke-width="0.1" x="540" y="179.7" font-size="17.3" textLength="142" lengthAdjust="spacingAndGlyphs">ENCLOSED UNDERBELLY</text>
  <text stroke-width="0.1" x="555.6" y="199" font-size="17.3" textLength="113.4" lengthAdjust="spacingAndGlyphs">WITH FORCED HEAT</text>
  <text stroke-width="0.1" x="738" y="183.4" font-size="15.4" textLength="187" lengthAdjust="spacingAndGlyphs">LARGE ROOF MOUNTED SOLAR PANEL</text>
  <text stroke-width="0.1" x="733" y="200" font-size="15.4" textLength="197.6" lengthAdjust="spacingAndGlyphs">30 AMP CONTROLLER &amp; INVERTER PREP</text>

  <text x="225" y="679.4" font-size="21.8" textLength="165" lengthAdjust="spacingAndGlyphs">UPGRADED TIRES</text>
  <text x="268.5" y="700.4" font-size="21.8" textLength="78" lengthAdjust="spacingAndGlyphs">W/ TPMS</text>
  <text stroke-width="0.1" x="55.5" y="847" font-size="21.2" textLength="169.5" lengthAdjust="spacingAndGlyphs">HOT &amp; COLD EXTERIOR</text>
  <text stroke-width="0.1" x="95.4" y="873.5" font-size="21.2" textLength="93.6" lengthAdjust="spacingAndGlyphs">SPRAY PORT</text>
  <text x="499" y="679" font-size="21" textLength="94.8" lengthAdjust="spacingAndGlyphs">8’ AWNING</text>
  <text x="708.8" y="727.3" font-size="24.3" textLength="144.2" lengthAdjust="spacingAndGlyphs">SLAM LATCH</text>
  <text x="695.3" y="753.2" font-size="24.3" textLength="171.7" lengthAdjust="spacingAndGlyphs">CARGO DOORS</text>

  <!-- rotated side labels -->
  <text transform="translate(15.8,371.9) rotate(-90)" font-size="23" textLength="53.1" lengthAdjust="spacingAndGlyphs">REAR</text>
  <text transform="translate(38.8,406) rotate(-90)" font-size="23" textLength="121.2" lengthAdjust="spacingAndGlyphs">ACCESSORY</text>
  <text transform="translate(60.2,373.5) rotate(-90)" font-size="23" textLength="56.5" lengthAdjust="spacingAndGlyphs">HITCH</text>
  <text transform="translate(43.5,634.8) rotate(-90)" font-size="23.5" textLength="109.5" lengthAdjust="spacingAndGlyphs">ON-THE-GO</text>
  <text transform="translate(65.2,648.4) rotate(-90)" font-size="23.5" textLength="136.6" lengthAdjust="spacingAndGlyphs">LADDER PREP</text>
</g>

<!-- interior labels -->
<g fill="#111" stroke="#111" stroke-width="1.2" filter="url(#glow)">
  <text x="452" y="267.8" font-size="25.9" textLength="49.6" lengthAdjust="spacingAndGlyphs">OHC</text>
  <text x="620" y="282" font-size="25.9" textLength="27" lengthAdjust="spacingAndGlyphs">TV</text>
  <text x="375" y="372" font-size="25.9" textLength="126.6" lengthAdjust="spacingAndGlyphs">AIR FRYER/</text>
  <text x="401" y="397" font-size="25.9" textLength="74.5" lengthAdjust="spacingAndGlyphs">MICRO</text>
  <text x="424" y="450" font-size="24.7" textLength="84.4" lengthAdjust="spacingAndGlyphs">CENTRAL</text>
  <text x="449" y="475" font-size="24.7" textLength="36" lengthAdjust="spacingAndGlyphs">VAC</text>
  <text x="397.5" y="532" font-size="26.5" textLength="60.9" lengthAdjust="spacingAndGlyphs">SOFA</text>
  <text x="169" y="576" font-size="26.5" textLength="75" lengthAdjust="spacingAndGlyphs">REFER</text>
  <text transform="translate(129,602) rotate(-90)" font-size="26.5" textLength="88" lengthAdjust="spacingAndGlyphs">PANTRY</text>
  <text x="536.4" y="597" font-size="26" textLength="49.2" lengthAdjust="spacingAndGlyphs">OHC</text>
  <text x="624" y="404.6" font-size="26.5" textLength="96.6" lengthAdjust="spacingAndGlyphs">MURPHY</text>
  <text x="606" y="431" font-size="26.5" textLength="133" lengthAdjust="spacingAndGlyphs">QUEEN BED</text>
  <text x="607" y="457" font-size="26.5" textLength="130" lengthAdjust="spacingAndGlyphs">W/ DINETTE</text>
  <text x="631.5" y="482.6" font-size="26.5" textLength="81.5" lengthAdjust="spacingAndGlyphs">BELOW</text>
</g>
</svg>
</body></html>
